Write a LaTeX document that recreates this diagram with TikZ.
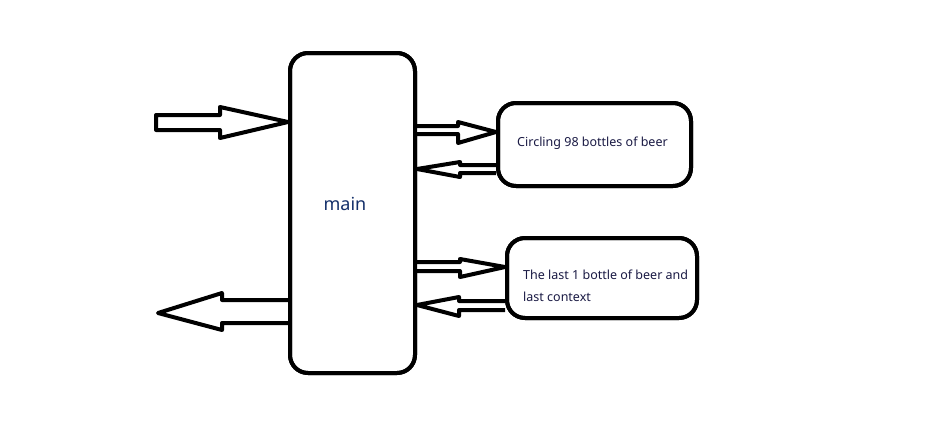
\documentclass[tikz,border=0pt]{standalone}
\usepackage{fontspec}
\setmainfont{Noto Sans}
\definecolor{txtc}{HTML}{1A1A44}
\definecolor{mainc}{HTML}{14306A}
\begin{document}
\begin{tikzpicture}[x=1pt,y=-1pt,
  box/.style={draw=black,line width=4pt,rounded corners=18pt,inner sep=0pt},
  blockarrow/.style={draw=black,line width=4pt,line join=round,fill=white},
  label/.style={inner sep=0pt,anchor=west,text=txtc,font=\fontsize{12.5}{14}\selectfont}]
\useasboundingbox[fill=white] (0,0) rectangle (949,424);
% boxes
\node[box,minimum width=125pt,minimum height=320pt] (main) at (352.5,213) {};
\node[box,minimum width=193pt,minimum height=83pt] (box1) at (594.5,144.5) {};
\node[box,minimum width=190pt,minimum height=80pt] (box2) at (602,278) {};
% texts
\node[inner sep=0pt,text=mainc,font=\fontsize{18}{20}\selectfont] (mlabel) at (345,204) {main};
\node[label] (t1) at (517,143) {Circling 98 bottles of beer};
\node[label] (t2a) at (523,275) {The last 1 bottle of beer and};
\node[label] (t2b) at (523,297) {last context};
% input arrow
\draw[blockarrow] (156,115) -- (220,115) -- (220,107) -- (main.west |- 0,122) -- (220,138) -- (220,130) -- (156,130) -- cycle;
% output arrow
\draw[blockarrow] (main.west |- 0,300) -- (222,300) -- (222,293) -- (158,313) -- (222,330) -- (222,323) -- (main.west |- 0,323);
% main -> box1
\draw[blockarrow] (main.east |- 0,126) -- (458,126) -- (458,122) -- (box1.west |- 0,132) -- (458,143) -- (458,134) -- (main.east |- 0,134);
% box1 -> main
\draw[blockarrow] (box1.west |- 0,165) -- (460,165) -- (460,162) -- (main.east |- 0,169) -- (460,177) -- (460,173) -- (box1.west |- 0,173);
% main -> box2
\draw[blockarrow] (main.east |- 0,262) -- (460,262) -- (460,259) -- (box2.west |- 0,267) -- (460,277) -- (460,271) -- (main.east |- 0,271);
% box2 -> main
\draw[blockarrow] (box2.west |- 0,301) -- (459,301) -- (459,297) -- (main.east |- 0,305) -- (459,316) -- (459,310) -- (box2.west |- 0,310);
% redraw box borders over arrow ends
\node[box,minimum width=125pt,minimum height=320pt] at (main.center) {};
\node[box,minimum width=193pt,minimum height=83pt] at (box1.center) {};
\node[box,minimum width=190pt,minimum height=80pt] at (box2.center) {};
\end{tikzpicture}
\end{document}
